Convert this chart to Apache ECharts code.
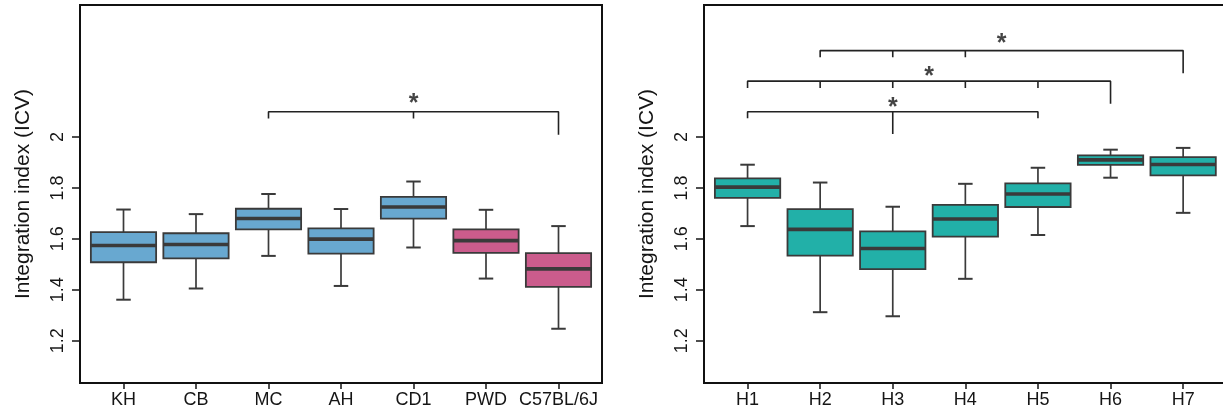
<!DOCTYPE html>
<html><head><meta charset="utf-8">
<script src="https://cdn.jsdelivr.net/npm/echarts@6/dist/echarts.min.js"></script>
<style>html,body{margin:0;padding:0;background:#fff}#c{width:1223px;height:414px}</style>
</head><body><div id="c"></div>
<script>
// ---------- data ----------
const leftCategories = ['KH', 'CB', 'MC', 'AH', 'CD1', 'PWD', 'C57BL/6J'];
const leftGroups = ['A', 'A', 'A', 'A', 'A', 'B', 'B'];
// [min, Q1, median, Q3, max]
const leftBoxes = [
  [1.361, 1.508, 1.574, 1.626, 1.715],
  [1.405, 1.523, 1.578, 1.622, 1.697],
  [1.533, 1.637, 1.680, 1.718, 1.776],
  [1.415, 1.542, 1.599, 1.641, 1.717],
  [1.566, 1.679, 1.725, 1.765, 1.825],
  [1.444, 1.545, 1.593, 1.637, 1.714],
  [1.247, 1.411, 1.482, 1.544, 1.650]
];
const rightCategories = ['H1', 'H2', 'H3', 'H4', 'H5', 'H6', 'H7'];
const rightGroups = ['C', 'C', 'C', 'C', 'C', 'C', 'C'];
const rightBoxes = [
  [1.650, 1.761, 1.803, 1.837, 1.891],
  [1.312, 1.534, 1.637, 1.717, 1.821],
  [1.296, 1.481, 1.562, 1.629, 1.726],
  [1.443, 1.609, 1.678, 1.733, 1.816],
  [1.615, 1.725, 1.776, 1.818, 1.879],
  [1.840, 1.890, 1.910, 1.928, 1.950],
  [1.702, 1.849, 1.892, 1.921, 1.957]
];
const yTickValues = [1.2, 1.4, 1.6, 1.8, 2.0];
// significance brackets: bar level, ticks [category position, tick end], star [position, level]
const leftSig = [
  { bar: 2.099, ticks: [[3, 2.072], [5, 2.072], [7, 2.009]], star: [5, 2.153] }
];
const rightSig = [
  { bar: 2.099, ticks: [[1, 2.073], [3, 2.012], [5, 2.073]], star: [3, 2.135] },
  { bar: 2.219, ticks: [[1, 2.192], [2, 2.192], [3, 2.192], [4, 2.192], [5, 2.192], [6, 2.130]], star: [3.5, 2.259] },
  { bar: 2.339, ticks: [[2, 2.313], [3, 2.313], [4, 2.313], [7, 2.250]], star: [4.5, 2.388] }
];

// ---------- styles ----------
const FONT = '"Liberation Sans", Arial, Helvetica, sans-serif';
const INK = '#151515';
const EDGE = '#3a3a3a';
const groupColor = { A: '#68A8D0', B: '#CB5C8C', C: '#22B0A8' };
const Y_MIN = 1.034, Y_MAX = 2.518;

function boxRenderer(groups) {
  return function (params, api) {
    const x = api.value(0);
    const mn = api.value(1), q1 = api.value(2), md = api.value(3), q3 = api.value(4), mx = api.value(5);
    const band = api.size([1, 0])[0];
    const hw = band * 0.45, cw = band * 0.1;
    const p = v => api.coord([x, v]);
    const pMin = p(mn), pQ1 = p(q1), pMd = p(md), pQ3 = p(q3), pMx = p(mx);
    const cx = pMd[0];
    const lineStyle = { stroke: EDGE, lineWidth: 1.7 };
    return {
      type: 'group',
      children: [
        { type: 'line', shape: { x1: cx, y1: pQ3[1], x2: cx, y2: pMx[1] }, style: lineStyle },
        { type: 'line', shape: { x1: cx, y1: pQ1[1], x2: cx, y2: pMin[1] }, style: lineStyle },
        { type: 'line', shape: { x1: cx - cw, y1: pMx[1], x2: cx + cw, y2: pMx[1] }, style: { stroke: EDGE, lineWidth: 2 } },
        { type: 'line', shape: { x1: cx - cw, y1: pMin[1], x2: cx + cw, y2: pMin[1] }, style: { stroke: EDGE, lineWidth: 2 } },
        { type: 'rect', shape: { x: cx - hw, y: pQ3[1], width: 2 * hw, height: pQ1[1] - pQ3[1] },
          style: { fill: groupColor[groups[params.dataIndex]], stroke: EDGE, lineWidth: 1.8 } },
        { type: 'line', shape: { x1: cx - hw, y1: pMd[1], x2: cx + hw, y2: pMd[1] }, style: { stroke: EDGE, lineWidth: 3.6 } }
      ]
    };
  };
}

function bracketPath(s) {
  const pts = [];
  s.ticks.forEach((t, i) => {
    if (i === 0) { pts.push([t[0], t[1]], [t[0], s.bar]); }
    else {
      pts.push([t[0], s.bar], [t[0], t[1]]);
      if (i < s.ticks.length - 1) pts.push([t[0], s.bar]);
    }
  });
  return pts;
}

function panelSeries(idx, boxes, groups, sig) {
  const out = [{
    type: 'custom', xAxisIndex: idx, yAxisIndex: idx,
    renderItem: boxRenderer(groups),
    encode: { x: 0, y: [1, 2, 3, 4, 5] },
    data: boxes.map((b, i) => [i + 1].concat(b)),
    silent: true, animation: false, z: 3
  }];
  sig.forEach(s => {
    out.push({
      type: 'line', xAxisIndex: idx, yAxisIndex: idx,
      data: bracketPath(s), showSymbol: false, symbol: 'none',
      lineStyle: { color: '#222', width: 1.6 }, silent: true, animation: false, z: 4
    });
  });
  out.push({
    type: 'scatter', xAxisIndex: idx, yAxisIndex: idx,
    data: sig.map(s => s.star), symbolSize: 1, itemStyle: { color: 'rgba(0,0,0,0)' },
    label: { show: true, position: 'inside', formatter: '*', fontSize: 25, fontWeight: 'bold', fontFamily: FONT, color: INK, offset: [0, 6] },
    silent: true, animation: false, z: 5
  });
  return out;
}

function xAxis(idx, cats) {
  return {
    type: 'value', gridIndex: idx, min: 0.4, max: 7.6,
    axisLine: { show: false },
    splitLine: { show: false },
    axisTick: { show: true, length: 6, lineStyle: { color: INK, width: 1.5 }, customValues: cats.map((c, i) => i + 1) },
    axisLabel: { show: true, margin: 8, fontSize: 18, fontFamily: FONT, color: INK,
      customValues: cats.map((c, i) => i + 1), formatter: v => cats[Math.round(v) - 1] }
  };
}

function yAxis(idx) {
  return {
    type: 'value', gridIndex: idx, min: Y_MIN, max: Y_MAX,
    name: 'Integration index (ICV)', nameLocation: 'middle', nameRotate: 90, nameGap: 46,
    nameTextStyle: { fontSize: 21, fontFamily: FONT, color: INK },
    axisLine: { show: false },
    splitLine: { show: false },
    axisTick: { show: true, length: 8, lineStyle: { color: INK, width: 1.5 }, customValues: yTickValues },
    axisLabel: { show: true, rotate: 90, margin: 13, fontSize: 18, fontFamily: FONT, color: INK,
      customValues: yTickValues, formatter: v => String(+(+v).toFixed(1)) }
  };
}

const chart = echarts.init(document.getElementById('c'), null, { renderer: 'canvas' });
chart.setOption({
  animation: false,
  backgroundColor: '#fff',
  grid: [
    { left: 80, top: 5, width: 522, height: 378, show: true, borderColor: '#111', borderWidth: 2, backgroundColor: 'transparent', outerBoundsMode: 'none', containLabel: false },
    { left: 704, top: 5, width: 522.7, height: 378, show: true, borderColor: '#111', borderWidth: 2, backgroundColor: 'transparent', outerBoundsMode: 'none', containLabel: false }
  ],
  xAxis: [xAxis(0, leftCategories), xAxis(1, rightCategories)],
  yAxis: [yAxis(0), yAxis(1)],
  series: [].concat(
    panelSeries(0, leftBoxes, leftGroups, leftSig),
    panelSeries(1, rightBoxes, rightGroups, rightSig)
  )
});
</script>
</body></html>
